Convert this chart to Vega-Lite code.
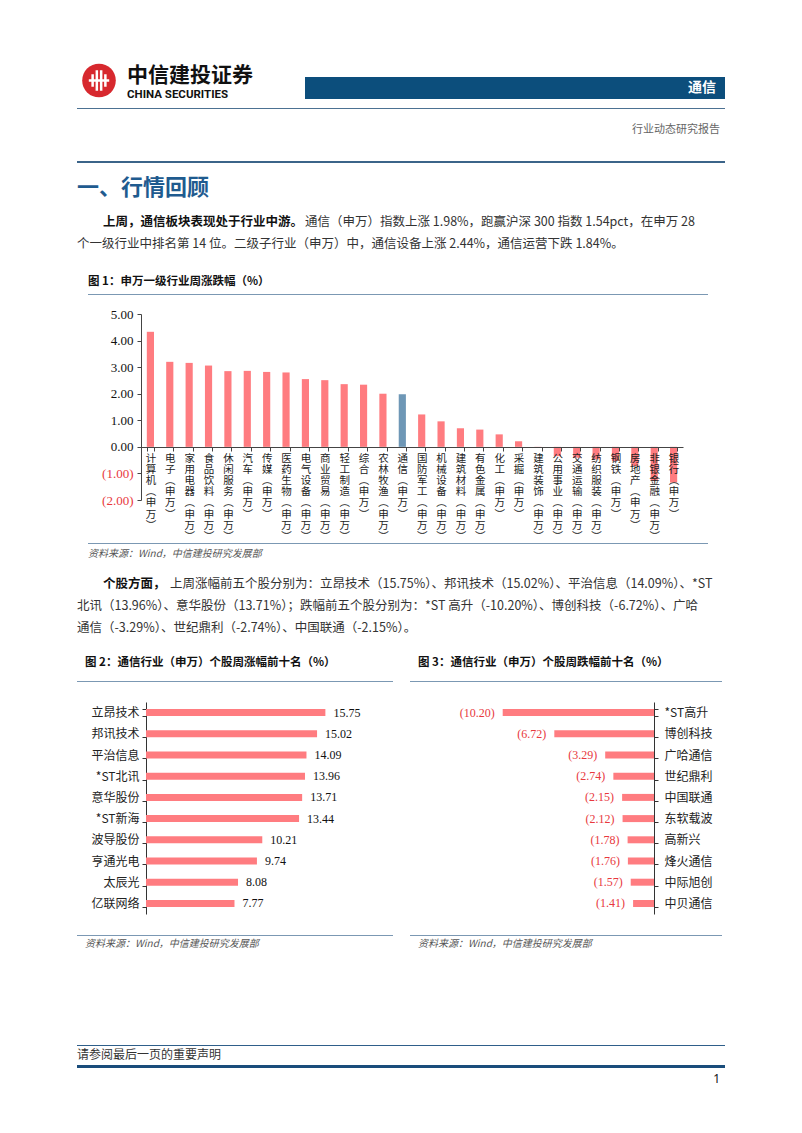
{
  "$schema": "https://vega.github.io/schema/vega-lite/v6.json",
  "padding": {"left": 77, "top": 62, "right": 0, "bottom": 0},
  "background": "white",
  "spacing": 0,
  "config": {
    "view": {"stroke": null},
    "font": "Noto Sans CJK SC",
    "title": {"font": "Noto Sans CJK SC", "frame": "group", "anchor": "start", "limit": 0}
  },
  "datasets": {
    "logo": [{"name": "CITIC"}],
    "industry": [
      {"industry": "计算机(申万)", "change": 4.33},
      {"industry": "电子(申万)", "change": 3.20},
      {"industry": "家用电器(申万)", "change": 3.16},
      {"industry": "食品饮料(申万)", "change": 3.06},
      {"industry": "休闲服务(申万)", "change": 2.85},
      {"industry": "汽车(申万)", "change": 2.86},
      {"industry": "传媒(申万)", "change": 2.82},
      {"industry": "医药生物(申万)", "change": 2.80},
      {"industry": "电气设备(申万)", "change": 2.55},
      {"industry": "商业贸易(申万)", "change": 2.51},
      {"industry": "轻工制造(申万)", "change": 2.36},
      {"industry": "综合(申万)", "change": 2.34},
      {"industry": "农林牧渔(申万)", "change": 2.00},
      {"industry": "通信(申万)", "change": 1.98},
      {"industry": "国防军工(申万)", "change": 1.22},
      {"industry": "机械设备(申万)", "change": 0.96},
      {"industry": "建筑材料(申万)", "change": 0.70},
      {"industry": "有色金属(申万)", "change": 0.65},
      {"industry": "化工(申万)", "change": 0.47},
      {"industry": "采掘(申万)", "change": 0.21},
      {"industry": "建筑装饰(申万)", "change": -0.02},
      {"industry": "公用事业(申万)", "change": -0.35},
      {"industry": "交通运输(申万)", "change": -0.41},
      {"industry": "纺织服装(申万)", "change": -0.47},
      {"industry": "钢铁(申万)", "change": -0.53},
      {"industry": "房地产(申万)", "change": -0.72},
      {"industry": "非银金融(申万)", "change": -1.28},
      {"industry": "银行(申万)", "change": -1.34}
    ],
    "gainers": [
      {"stock": "立昂技术", "change": 15.75},
      {"stock": "邦讯技术", "change": 15.02},
      {"stock": "平治信息", "change": 14.09},
      {"stock": "*ST北讯", "change": 13.96},
      {"stock": "意华股份", "change": 13.71},
      {"stock": "*ST新海", "change": 13.44},
      {"stock": "波导股份", "change": 10.21},
      {"stock": "亨通光电", "change": 9.74},
      {"stock": "太辰光", "change": 8.08},
      {"stock": "亿联网络", "change": 7.77}
    ],
    "losers": [
      {"stock": "*ST高升", "change": -10.20},
      {"stock": "博创科技", "change": -6.72},
      {"stock": "广哈通信", "change": -3.29},
      {"stock": "世纪鼎利", "change": -2.74},
      {"stock": "中国联通", "change": -2.15},
      {"stock": "东软载波", "change": -2.12},
      {"stock": "高新兴", "change": -1.78},
      {"stock": "烽火通信", "change": -1.76},
      {"stock": "中际旭创", "change": -1.57},
      {"stock": "中贝通信", "change": -1.41}
    ]
  },
  "vconcat": [
    {
      "spacing": 6,
      "hconcat": [
        {
          "width": 44, "height": 37,
          "data": {"name": "logo"},
          "layer": [
            {"mark": {"type": "point", "shape": "circle", "filled": true, "size": 1130, "color": "#d7282e", "opacity": 1}},
            {"mark": {"type": "point", "shape": "M-0.5,-0.5V0.5M-0.17,-0.8V0.8M0.17,-0.8V0.8M0.5,-0.5V0.5M-0.8,0H0.8", "filled": false, "stroke": "white", "strokeWidth": 2.5, "size": 650, "opacity": 1}}
          ]
        },
        {
          "width": 172, "height": 37,
          "data": {"values": []}, "mark": "text",
          "title": {"text": "中信建投证券", "subtitle": "CHINA SECURITIES", "offset": -38.5, "fontSize": 21, "fontWeight": "bold", "color": "#111111", "subtitleFont": "Roboto", "subtitleFontSize": 11.5, "subtitleFontWeight": "bold", "subtitleColor": "#111111", "subtitlePadding": 3}
        },
        {
          "spacing": 6,
          "vconcat": [
            {"width": 420, "height": 9, "data": {"values": []}, "mark": "text"},
            {
              "width": 420, "height": 22,
              "view": {"fill": "#0c4e7c", "stroke": null},
              "data": {"values": []}, "mark": "text",
              "title": {"text": "通信", "anchor": "end", "offset": -18, "dx": -9, "fontSize": 14, "fontWeight": "bold", "color": "#ffffff"}
            }
          ]
        }
      ]
    },
    {"width": 648, "height": 7, "data": {"values": []}, "mark": "text"},
    {"width": 648, "height": 1, "view": {"fill": "#4c7192", "stroke": null}, "data": {"values": []}, "mark": "text"},
    {
      "width": 648, "height": 52, "data": {"values": []}, "mark": "text",
      "title": {"text": "行业动态研究报告", "anchor": "end", "offset": -25.5, "dx": -5, "fontSize": 11, "fontWeight": "normal", "color": "#666666"}
    },
    {"width": 648, "height": 2, "view": {"fill": "#3b6489", "stroke": null}, "data": {"values": []}, "mark": "text"},
    {
      "width": 648, "height": 48, "data": {"values": []}, "mark": "text",
      "title": {"text": "一、行情回顾", "offset": -37, "dx": 0, "fontSize": 22, "fontWeight": "bold", "color": "#1f5b8f"}
    },
    {
      "spacing": 0,
      "hconcat": [
        {
          "width": 228, "height": 22, "data": {"values": []}, "mark": "text",
          "title": {"text": "上周，通信板块表现处于行业中游。", "offset": -17.25, "dx": 26, "fontSize": 12.5, "fontWeight": "bold", "color": "#111111"}
        },
        {
          "width": 420, "height": 22, "data": {"values": []}, "mark": "text",
          "title": {"text": "通信（申万）指数上涨 1.98%，跑赢沪深 300 指数 1.54pct，在申万 28", "offset": -17.25, "fontSize": 12.5, "fontWeight": "normal", "color": "#333333"}
        }
      ]
    },
    {
      "width": 648, "height": 22, "data": {"values": []}, "mark": "text",
      "title": {"text": "个一级行业中排名第 14 位。二级子行业（申万）中，通信设备上涨 2.44%，通信运营下跌 1.84%。", "offset": -17.25, "fontSize": 12.5, "fontWeight": "normal", "color": "#333333"}
    },
    {
      "width": 648, "height": 39, "data": {"values": []}, "mark": "text",
      "title": {"text": "图 1：申万一级行业周涨跌幅（%）", "offset": -32.75, "dx": 11, "fontSize": 11.5, "fontWeight": "bold", "color": "#111111"}
    },
    {
      "spacing": 10,
      "hconcat": [
        {"width": 1, "height": 1, "data": {"values": []}, "mark": "text"},
        {"width": 620, "height": 1, "view": {"fill": "#7b98b3", "stroke": null}, "data": {"values": []}, "mark": "text"}
      ]
    },
    {"width": 648, "height": 13, "data": {"values": []}, "mark": "text"},
    {
      "width": 606, "height": 186,
      "data": {"name": "industry"},
      "mark": {"type": "bar"},
      "encoding": {
        "x": {
          "field": "industry", "type": "nominal", "sort": null,
          "scale": {"range": [64, 606], "paddingInner": 0.63, "paddingOuter": 0.3},
          "axis": {
            "title": null, "orient": "bottom", "offset": -53, "zindex": 1,
            "domainColor": "#444444", "tickColor": "#444444", "tickSize": 4, "tickBand": "extent",
            "labelAngle": 0, "labelAlign": "center", "labelBaseline": "top", "labelPadding": 2,
            "labelFont": "Noto Sans CJK SC", "labelFontSize": 10.5, "labelLineHeight": 11.2, "labelColor": "#222222",
            "labelOverlap": false,
            "labelExpr": "split(replace(replace(datum.label, '(', '︵'), ')', '︶'), '')"
          }
        },
        "y": {
          "field": "change", "type": "quantitative",
          "scale": {"domain": [-2, 5], "nice": false, "zero": true},
          "axis": {
            "title": null, "offset": -64, "values": [-2, -1, 0, 1, 2, 3, 4, 5], "format": "(.2f", "grid": false,
            "domainColor": "#444444", "tickColor": "#444444", "tickSize": 4, "labelPadding": 4,
            "labelFont": "Liberation Serif", "labelFontSize": 13,
            "labelColor": {"condition": {"test": "datum.value < 0", "value": "#e8383d"}, "value": "#111111"}
          }
        },
        "color": {"condition": {"test": "datum.industry === '通信(申万)'", "value": "#6e97b6"}, "value": "#ff7c80"}
      }
    },
    {"width": 648, "height": 1, "data": {"values": []}, "mark": "text"},
    {
      "spacing": 10,
      "hconcat": [
        {"width": 1, "height": 1, "data": {"values": []}, "mark": "text"},
        {"width": 620, "height": 1, "view": {"fill": "#7b98b3", "stroke": null}, "data": {"values": []}, "mark": "text"}
      ]
    },
    {
      "width": 648, "height": 29, "data": {"values": []}, "mark": "text",
      "title": {"text": "资料来源：Wind，中信建投研究发展部", "offset": -15, "dx": 11, "fontSize": 10, "fontStyle": "italic", "fontWeight": "normal", "color": "#555555"}
    },
    {
      "spacing": 0,
      "hconcat": [
        {
          "width": 93, "height": 22, "data": {"values": []}, "mark": "text",
          "title": {"text": "个股方面，", "offset": -17.25, "dx": 26, "fontSize": 12.5, "fontWeight": "bold", "color": "#111111"}
        },
        {
          "width": 555, "height": 22, "data": {"values": []}, "mark": "text",
          "title": {"text": "上周涨幅前五个股分别为：立昂技术（15.75%）、邦讯技术（15.02%）、平治信息（14.09%）、*ST", "offset": -17.25, "fontSize": 12.5, "fontWeight": "normal", "color": "#333333"}
        }
      ]
    },
    {
      "width": 648, "height": 22, "data": {"values": []}, "mark": "text",
      "title": {"text": "北讯（13.96%）、意华股份（13.71%）；跌幅前五个股分别为：*ST 高升（-10.20%）、博创科技（-6.72%）、广哈", "offset": -17.25, "fontSize": 12.5, "fontWeight": "normal", "color": "#333333"}
    },
    {
      "width": 648, "height": 22, "data": {"values": []}, "mark": "text",
      "title": {"text": "通信（-3.29%）、世纪鼎利（-2.74%）、中国联通（-2.15%）。", "offset": -17.25, "fontSize": 12.5, "fontWeight": "normal", "color": "#333333"}
    },
    {
      "spacing": 17,
      "hconcat": [
        {
          "spacing": 0,
          "vconcat": [
            {
              "width": 316, "height": 42, "data": {"values": []}, "mark": "text",
              "title": {"text": "图 2：通信行业（申万）个股周涨幅前十名（%）", "offset": -29.75, "dx": 8, "fontSize": 11.5, "fontWeight": "bold", "color": "#111111"}
            },
            {"width": 316, "height": 1, "view": {"fill": "#7b98b3", "stroke": null}, "data": {"values": []}, "mark": "text"},
            {"width": 316, "height": 14, "data": {"values": []}, "mark": "text"},
            {
              "width": 316, "height": 212,
              "data": {"name": "gainers"},
              "encoding": {
                "y": {
                  "field": "stock", "type": "nominal", "sort": null,
                  "scale": {"paddingInner": 0.67, "paddingOuter": 0.335},
                  "axis": {"title": null, "offset": -69, "domainColor": "#333333", "tickColor": "#333333", "tickSize": 4, "tickBand": "extent", "labelPadding": 3, "labelFont": "Noto Sans CJK SC", "labelFontSize": 12, "labelColor": "#222222"}
                },
                "x": {"field": "change", "type": "quantitative", "scale": {"domain": [0, 18], "range": [69, 274]}, "axis": null}
              },
              "layer": [
                {"mark": {"type": "bar", "color": "#ff7c80"}},
                {"mark": {"type": "text", "align": "left", "dx": 8, "font": "Liberation Serif", "fontSize": 12, "color": "#111111"}, "encoding": {"text": {"field": "change", "type": "quantitative", "format": ".2f"}}}
              ]
            },
            {"width": 316, "height": 21, "data": {"values": []}, "mark": "text"},
            {"width": 316, "height": 1, "view": {"fill": "#7b98b3", "stroke": null}, "data": {"values": []}, "mark": "text"},
            {
              "width": 316, "height": 20, "data": {"values": []}, "mark": "text",
              "title": {"text": "资料来源：Wind，中信建投研究发展部", "offset": -13, "dx": 8, "fontSize": 10, "fontStyle": "italic", "fontWeight": "normal", "color": "#555555"}
            }
          ]
        },
        {
          "spacing": 0,
          "vconcat": [
            {
              "width": 312, "height": 42, "data": {"values": []}, "mark": "text",
              "title": {"text": "图 3：通信行业（申万）个股周跌幅前十名（%）", "offset": -29.75, "dx": 8, "fontSize": 11.5, "fontWeight": "bold", "color": "#111111"}
            },
            {"width": 312, "height": 1, "view": {"fill": "#7b98b3", "stroke": null}, "data": {"values": []}, "mark": "text"},
            {"width": 312, "height": 14, "data": {"values": []}, "mark": "text"},
            {
              "width": 312, "height": 212,
              "data": {"name": "losers"},
              "encoding": {
                "y": {
                  "field": "stock", "type": "nominal", "sort": null,
                  "scale": {"paddingInner": 0.67, "paddingOuter": 0.335},
                  "axis": {"title": null, "orient": "right", "offset": -68, "domainColor": "#333333", "tickColor": "#333333", "tickSize": 4, "tickBand": "extent", "labelPadding": 6, "labelFont": "Noto Sans CJK SC", "labelFontSize": 12, "labelColor": "#222222"}
                },
                "x": {"field": "change", "type": "quantitative", "scale": {"domain": [-12, 0], "range": [66, 244]}, "axis": null}
              },
              "layer": [
                {"mark": {"type": "bar", "color": "#ff7c80"}},
                {"mark": {"type": "text", "align": "right", "dx": -8, "font": "Liberation Serif", "fontSize": 12, "color": "#e8383d"}, "encoding": {"text": {"field": "change", "type": "quantitative", "format": "(.2f"}}}
              ]
            },
            {"width": 312, "height": 21, "data": {"values": []}, "mark": "text"},
            {"width": 312, "height": 1, "view": {"fill": "#7b98b3", "stroke": null}, "data": {"values": []}, "mark": "text"},
            {
              "width": 312, "height": 20, "data": {"values": []}, "mark": "text",
              "title": {"text": "资料来源：Wind，中信建投研究发展部", "offset": -13, "dx": 8, "fontSize": 10, "fontStyle": "italic", "fontWeight": "normal", "color": "#555555"}
            }
          ]
        }
      ]
    },
    {"width": 648, "height": 89, "data": {"values": []}, "mark": "text"},
    {"width": 648, "height": 1, "view": {"fill": "#2f5f8a", "stroke": null}, "data": {"values": []}, "mark": "text"},
    {
      "width": 648, "height": 19, "data": {"values": []}, "mark": "text",
      "title": {"text": "请参阅最后一页的重要声明", "offset": -16, "fontSize": 12, "fontWeight": "normal", "color": "#333333"}
    },
    {"width": 648, "height": 3, "view": {"fill": "#1a4d7b", "stroke": null}, "data": {"values": []}, "mark": "text"},
    {
      "width": 648, "height": 22, "data": {"values": []}, "mark": "text",
      "title": {"text": "1", "anchor": "end", "offset": -18, "dx": -5, "font": "Noto Sans", "fontSize": 12, "fontWeight": "normal", "color": "#111111"}
    }
  ]
}
